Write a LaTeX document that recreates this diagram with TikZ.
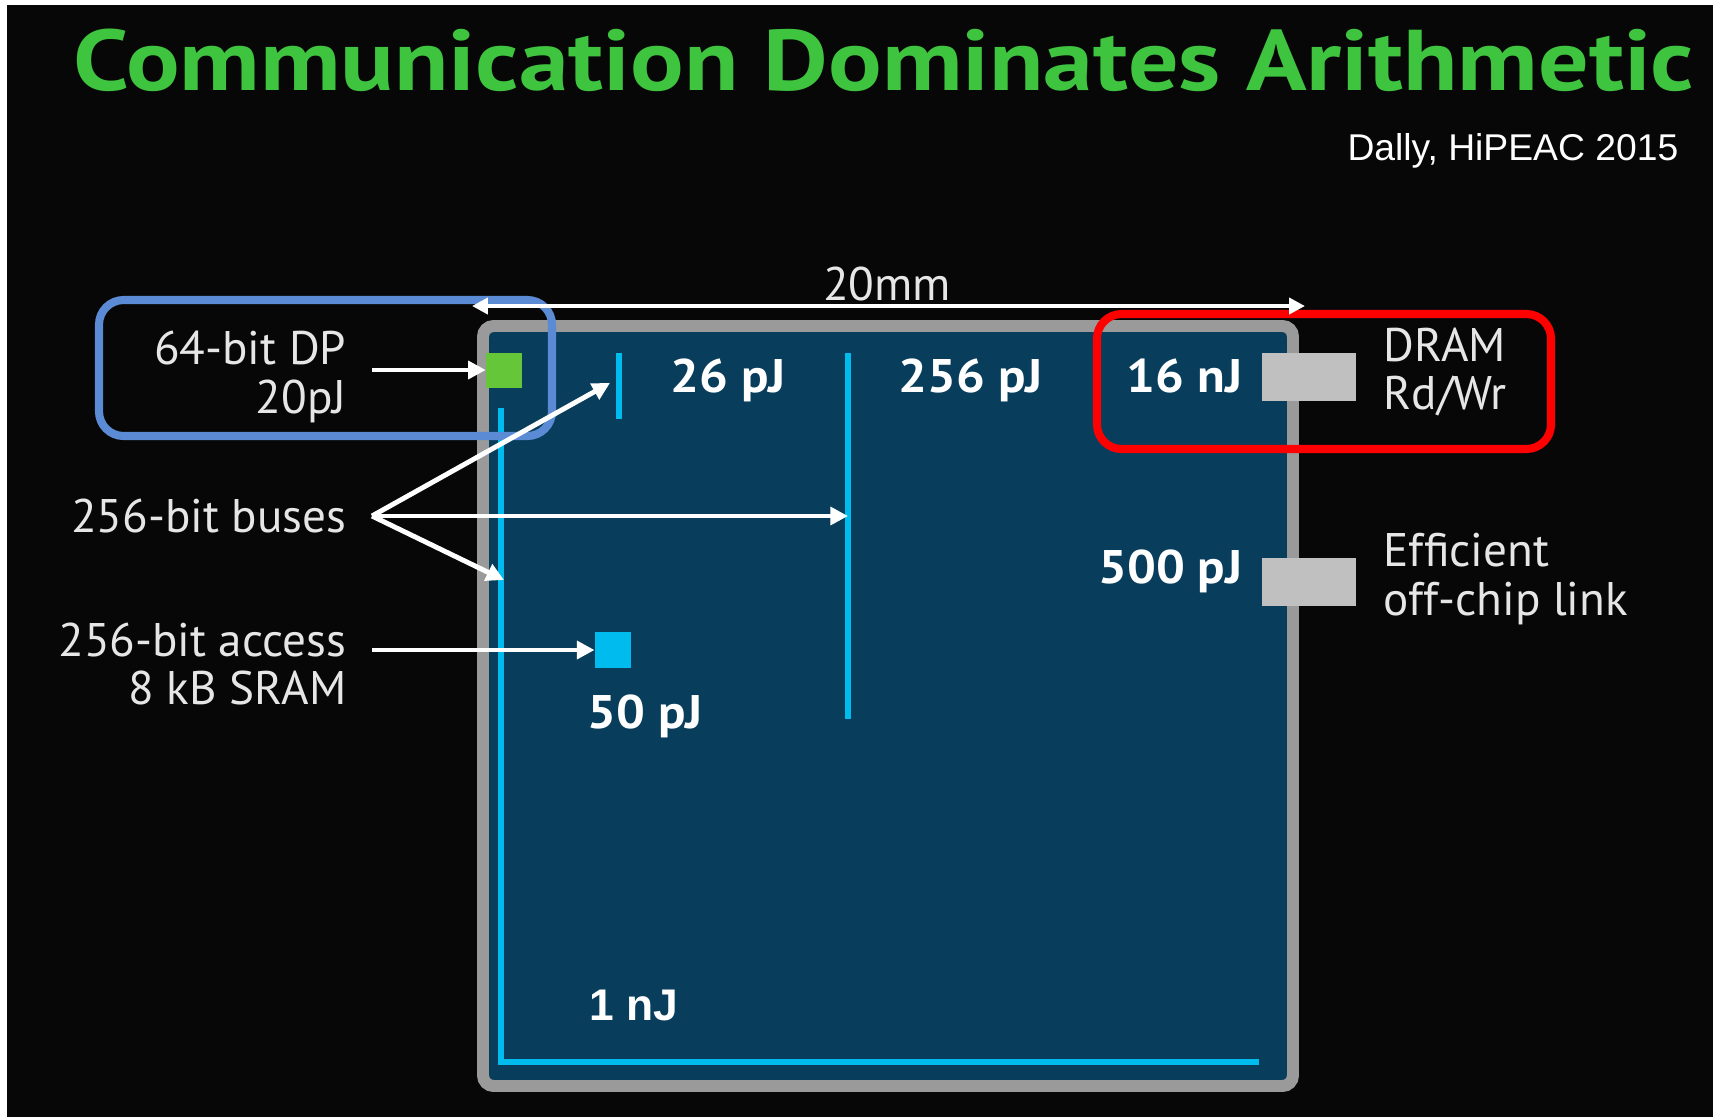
\documentclass[tikz,border=0pt]{standalone}
\usepackage{fontspec}
\setmainfont{PT Sans}
\newfontfamily\arialfont{Liberation Sans}
\usetikzlibrary{arrows.meta}
\definecolor{slidebg}{HTML}{070707}
\definecolor{titlegreen}{HTML}{3EC43E}
\definecolor{chipfill}{HTML}{083E5C}
\definecolor{chipedge}{HTML}{9A9A9A}
\definecolor{wirecyan}{HTML}{00BCEE}
\definecolor{alugreen}{HTML}{66C63A}
\definecolor{padgray}{HTML}{C0C0C0}
\definecolor{labelgray}{HTML}{E6E6E6}
\definecolor{dpblue}{HTML}{5A8BD4}
\definecolor{dramred}{HTML}{FF0000}
\tikzset{
  titletext/.style={text=titlegreen,inner sep=0,xscale=1.16,font=\fontsize{24.5}{26}\selectfont\bfseries},
  lbl/.style={text=labelgray,inner sep=0,align=right,font=\fontsize{13.4}{13.9}\selectfont},
  val/.style={text=white,inner sep=0,xscale=1.08,font=\fontsize{13.4}{14}\selectfont\bfseries},
  bus/.style={wirecyan,line width=1.7pt},
  wire/.style={white,line width=1.4pt,-{Triangle[length=5pt,width=5pt]}},
  pad/.style={fill=padgray,draw=none,inner sep=0,minimum width=0.94cm,minimum height=0.48cm},
  callout/.style={line width=2.3pt,rounded corners=7pt}
}
\begin{document}
\begin{tikzpicture}[x=0.01cm,y=-0.01cm]
\useasboundingbox (0,0) rectangle (1717,1117);
\fill[white] (0,0) rectangle (1717,1117);
\fill[slidebg] (7,5) rectangle (1713,1117);
% title and source
\node[titletext,anchor=base] (title) at (884,90) {Communication Dominates Arithmetic};
\node[anchor=base east,inner sep=0,text=white,font=\arialfont\fontsize{10.6}{12}\selectfont] (source) at (1679,160) {Dally, HiPEAC 2015};
% die
\draw[chipedge,fill=chipfill,line width=3.4pt,rounded corners=3pt] (483,326) rectangle (1293,1086);
\draw[bus] (501,408) -- (501,1062) -- (1259,1062);
\draw[bus] (619,353) -- (619,419);
\draw[bus] (848,353) -- (848,719);
\node[fill=alugreen,inner sep=0,minimum size=0.35cm] (dp) at (504,370) {};
\node[fill=wirecyan,inner sep=0,minimum size=0.355cm] (sram) at (613,650) {};
\node[pad] (dram) at (1309,377) {};
\node[pad] (link) at (1309,582) {};
% energies
\node[val,anchor=base west] (e26) at (670,392) {26 pJ};
\node[val,anchor=base west] (e256) at (898,392) {256 pJ};
\node[val,anchor=base east] (e16) at (1243,392) {16 nJ};
\node[val,anchor=base east] (e500) at (1243,583) {500 pJ};
\node[val,anchor=base west] (e50) at (587,728) {50 pJ};
\node[anchor=base west,inner sep=0,text=white,font=\arialfont\bfseries\fontsize{12.6}{14}\selectfont] (e1) at (589,1020) {1 nJ};
% labels
\node[lbl,anchor=east] (dplbl) at (347,377) {64-bit DP\\20pJ};
\node[lbl,anchor=east] (buslbl) at (347,516) {256-bit buses};
\node[lbl,anchor=east] (sramlbl) at (347,664) {256-bit access\\8 kB SRAM};
\node[lbl,align=left,anchor=west] (dramlbl) at (1383,372) {DRAM\\Rd/Wr};
\node[lbl,align=left,anchor=west] (linklbl) at (1383,579) {Efficient\\off-chip link};
% callouts
\draw[dpblue,callout] (99,300) rectangle (552,436);
\draw[dramred,callout] (1097,314) rectangle (1551,449);
% arrows
\coordinate (dimL) at (472,306);
\coordinate (dimR) at (1305,306);
\draw[white,line width=1.4pt,{Triangle[length=4.5pt,width=4.5pt]}-{Triangle[length=4.5pt,width=4.5pt]}] (dimL) -- (dimR);
\node[lbl,anchor=base] (dim) at (887,300) {20mm};
\coordinate (dpsrc) at (372,370);
\coordinate (fan) at (372,516);
\coordinate (tapA) at (610,383);
\coordinate (tapB) at (848,516);
\coordinate (tapC) at (504,580);
\coordinate (sramsrc) at (372,650);
\draw[wire] (dpsrc) -- (dp.west);
\draw[wire] (fan) -- (tapA);
\draw[wire] (fan) -- (tapB);
\draw[wire] (fan) -- (tapC);
\draw[wire] (sramsrc) -- (sram.west);
\end{tikzpicture}
\end{document}
